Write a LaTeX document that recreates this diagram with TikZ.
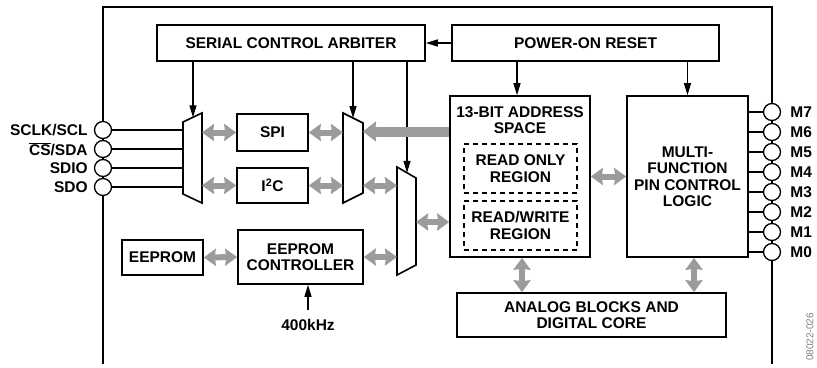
\documentclass[tikz,border=0pt]{standalone}
\usepackage{fontspec}
\setmainfont{Liberation Sans}
\usetikzlibrary{positioning,arrows.meta}
\definecolor{busgray}{RGB}{155,155,155}
\tikzset{
  box/.style={draw,line width=1.6pt,align=center,font=\fontsize{15.5}{16.5}\selectfont\bfseries,inner sep=2pt},
  region/.style={box,dash pattern=on 5pt off 4pt,line width=1.4pt},
  plbl/.style={font=\fontsize{15.5}{16.5}\selectfont\bfseries,align=center,inner sep=1pt},
  wire/.style={line width=1.3pt},
  arr/.style={wire,-{Triangle[length=12pt,width=7pt]}},
  bus/.style={draw=busgray,line width=6pt,{Stealth[length=12pt,width=17pt,inset=1pt]}-{Stealth[length=12pt,width=17pt,inset=1pt]}},
  widebus/.style={draw=busgray,line width=10pt,-{Stealth[length=13pt,width=20pt,inset=1pt]}},
  pinball/.style={circle,draw,fill=white,line width=1.3pt,minimum size=17pt,inner sep=0pt},
  mux/.style={draw,fill=white,line width=1.6pt,line join=miter}
}

\begin{document}
\begin{tikzpicture}[x=1pt,y=-1pt]
  \useasboundingbox (0,0) rectangle (817,367);
  % chip outline
  \draw[line width=2.2pt] (103,364) -- (103,7) -- (772,7) -- (772,364);
  % blocks
  \node[box,minimum width=268pt,minimum height=36pt] (sca) at (291,43) {SERIAL CONTROL ARBITER};
  \node[box,minimum width=267pt,minimum height=36pt] (por) at (585.5,43) {POWER-ON RESET};
  \node[box,minimum width=71pt,minimum height=37pt] (spi) at (272.5,132.5) {SPI};
  \node[box,minimum width=71pt,minimum height=35pt] (iic) at (272.5,185.5) {I\textsuperscript{2}C};
  \node[box,minimum width=140pt,minimum height=161pt] (addr) at (520,176.5) {};
  \node[plbl] (addrlbl) at (520,120) {13-BIT ADDRESS\\SPACE};
  \node[region,minimum width=113pt,minimum height=49pt] (ro) at (520.5,168.5) {READ ONLY\\REGION};
  \node[region,minimum width=113pt,minimum height=49pt] (rw) at (520.5,225.5) {READ/WRITE\\REGION};
  \node[box,minimum width=121pt,minimum height=161pt] (mf) at (687.5,176.5) {MULTI-\\FUNCTION\\PIN CONTROL\\LOGIC};
  \node[box,minimum width=81pt,minimum height=35pt] (eep) at (162.5,257.5) {EEPROM};
  \node[box,minimum width=125pt,minimum height=54pt] (eepc) at (300.5,257) {EEPROM\\CONTROLLER};
  \node[box,minimum width=269pt,minimum height=44pt] (core) at (591.5,315) {ANALOG BLOCKS AND\\DIGITAL CORE};
  \node[plbl] (clk) at (308,325) {400kHz};
  % multiplexers
  \draw[mux] (183,122) -- (202,113) -- (202,203) -- (183,194) -- cycle;
  \draw[mux] (343,113) -- (363,123) -- (363,193) -- (343,203) -- cycle;
  \draw[mux] (397,167) -- (416,178) -- (416,265) -- (397,275) -- cycle;
  \coordinate (m1w) at (183,158);
  \coordinate (m1e) at (202,158);
  \coordinate (m2w) at (343,158);
  \coordinate (m2e) at (363,158);
  \coordinate (m3w) at (397,222);
  \coordinate (m3e) at (416,222);
  \coordinate (m1top) at (193,117.3);
  \coordinate (m2top) at (353,118);
  \coordinate (m3top) at (407,172.8);
  % serial pins
  \node[pinball] (sclk) at (103,130) {};
  \node[pinball] (cs) at (103,149) {};
  \node[pinball] (sdio) at (103,168) {};
  \node[pinball] (sdo) at (103,187) {};
  \node[plbl,left=5pt of sclk] (sclklbl) {SCLK/SCL};
  \node[plbl,left=5pt of cs] (cslbl) {$\overline{\mbox{CS}}$/SDA};
  \node[plbl,left=5pt of sdio] (sdiolbl) {SDIO};
  \node[plbl,left=5pt of sdo] (sdolbl) {SDO};
  \draw[wire] (sclk.east) -- (sclk -| m1w);
  \draw[wire] (cs.east) -- (cs -| m1w);
  \draw[wire] (sdio.east) -- (sdio -| m1w);
  \draw[wire] (sdo.east) -- (sdo -| m1w);
  % M pins
  \foreach \m [count=\k from 0] in {7,6,5,4,3,2,1,0} {
    \node[pinball] (m\m) at (772,112+20*\k) {};
    \node[plbl,right=8pt of m\m] (m\m lbl) {M\m};
    \draw[wire] (mf.east |- m\m) -- (m\m.west);
  }
  % control arrows
  \draw[arr] (por.west) -- (sca.east);
  \draw[arr] (sca.south -| m1top) -- (m1top);
  \draw[arr] (sca.south -| m2top) -- (m2top);
  \draw[arr] (sca.south -| m3top) -- (m3top);
  \draw[arr] ([xshift=-3pt]addr.north |- por.south) -- ([xshift=-3pt]addr.north);
  \draw[arr] (mf.north |- por.south) -- (mf.north);
  \draw[arr] ([yshift=8pt]clk.north) -- (clk.north |- eepc.south);
  % data buses
  \draw[bus] (m1e |- spi) -- (spi.west);
  \draw[bus] (m1e |- iic) -- (iic.west);
  \draw[bus] (spi.east) -- (m2w |- spi);
  \draw[bus] (iic.east) -- (m2w |- iic);
  \draw[bus] (m2e |- iic) -- (m3w |- iic);
  \draw[widebus] ([yshift=1pt]addr.west |- spi) -- ([yshift=1pt]m2e |- spi);
  \draw[bus] (m3e) -- (m3e -| addr.west);
  \draw[bus] (eep.east) -- (eepc.west);
  \draw[bus] (eepc.east) -- (eepc.east -| m3w);
  \draw[bus] (addr.east |- mf) -- (mf.west);
  \draw[bus] ([xshift=2pt]addr.south) -- ([xshift=2pt]addr.south |- core.north);
  \draw[bus] ([xshift=6.5pt]mf.south) -- ([xshift=6.5pt]mf.south |- core.north);
  % figure number
  \node[font=\fontsize{10}{10}\selectfont,text=gray,rotate=90,inner sep=1pt] (figno) at (810,337) {08022-026};
\end{tikzpicture}
\end{document}
